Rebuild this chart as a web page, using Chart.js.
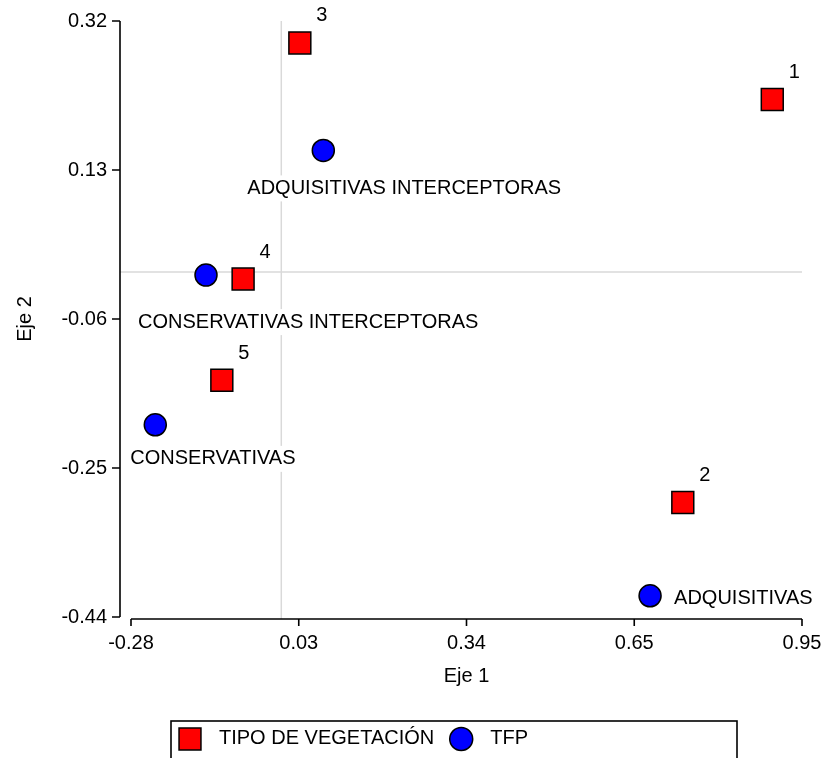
<!DOCTYPE html>
<html>
<head>
<meta charset="utf-8">
<script src="https://cdn.jsdelivr.net/npm/chart.js@4/dist/chart.umd.min.js"></script>
<style>
  html, body { margin: 0; padding: 0; background: #fff; }
  #plot { display: block; }
</style>
</head>
<body>
<canvas id="plot" width="826" height="758"></canvas>
<script>
// Ordination scores: vegetation types (numbered) and functional groups (TFP)
const vegNames = ['1', '2', '3', '4', '5'];
const vegX = [0.900, 0.736, 0.034, -0.070, -0.109];
const vegY = [0.220, -0.294, 0.292, -0.009, -0.138];

const tfpNames = ['ADQUISITIVAS INTERCEPTORAS', 'CONSERVATIVAS INTERCEPTORAS', 'CONSERVATIVAS', 'ADQUISITIVAS'];
const tfpX = [0.077, -0.138, -0.231, 0.676];
const tfpY = [0.155, -0.004, -0.195, -0.413];

const seriesNames = ['TIPO DE VEGETACIÓN', 'TFP'];

// Axis extents and their printed tick labels (ticks are evenly spaced)
const xRange = [-0.2755, 0.9545];
const yRange = [-0.44, 0.32];
const xTickLabels = ['-0.28', '0.03', '0.34', '0.65', '0.95'];
const yTickLabels = ['-0.44', '-0.25', '-0.06', '0.13', '0.32'];
const axisTitles = ['Eje 1', 'Eje 2'];

// ---- presentation ----
const FONT = "'Liberation Sans', Arial, sans-serif";
const FS = 20;
const vegLabelShift = { dx: 22, dy: -27 };
const tfpLabelShift = [
  { dx: -76, dy: 38 },
  { dx: -68, dy: 47 },
  { dx: -25, dy: 34 },
  { dx: 24, dy: 3 }
];

function evenTicks(range, n) {
  return Array.from({ length: n }, (_, i) => ({ value: range[0] + i * (range[1] - range[0]) / (n - 1) }));
}

// Keep the plot area fixed by the layout padding alone
function noOverhang(s) {
  s.paddingTop = 0;
  s.paddingBottom = 0;
  s.paddingLeft = 0;
  s.paddingRight = 0;
}

// Detached axis lines with outward tick marks, plus the reference lines through the origin
const axesPlugin = {
  id: 'detachedAxes',
  beforeDatasetsDraw(chart) {
    const { ctx, chartArea: a, scales: { x, y } } = chart;
    const axX = a.left - 11;
    const axY = a.bottom + 2;
    ctx.save();
    ctx.lineCap = 'butt';
    ctx.strokeStyle = '#d9d9d9';
    ctx.lineWidth = 1.5;
    const x0 = x.getPixelForValue(0);
    const y0 = y.getPixelForValue(0);
    ctx.beginPath();
    ctx.moveTo(axX, y0); ctx.lineTo(a.right, y0);
    ctx.moveTo(x0, a.top); ctx.lineTo(x0, axY);
    ctx.stroke();

    ctx.strokeStyle = '#000';
    ctx.lineWidth = 1.6;
    ctx.beginPath();
    ctx.moveTo(axX, y.getPixelForValue(y.max));
    ctx.lineTo(axX, y.getPixelForValue(y.min));
    y.ticks.forEach(t => {
      const p = y.getPixelForValue(t.value);
      ctx.moveTo(axX - 8, p); ctx.lineTo(axX, p);
    });
    ctx.moveTo(x.getPixelForValue(x.min), axY);
    ctx.lineTo(x.getPixelForValue(x.max), axY);
    x.ticks.forEach(t => {
      const p = x.getPixelForValue(t.value);
      ctx.moveTo(p, axY); ctx.lineTo(p, axY + 7);
    });
    ctx.stroke();
    ctx.restore();
  }
};

// Text labels beside each point
const pointLabelPlugin = {
  id: 'pointLabels',
  afterDatasetsDraw(chart) {
    const { ctx } = chart;
    ctx.save();
    ctx.font = FS + 'px ' + FONT;
    ctx.textBaseline = 'middle';
    ctx.fillStyle = '#000';

    chart.getDatasetMeta(0).data.forEach((el, i) => {
      ctx.textAlign = 'center';
      ctx.fillText(vegNames[i], el.x + vegLabelShift.dx, el.y + vegLabelShift.dy);
    });

    chart.getDatasetMeta(1).data.forEach((el, i) => {
      const tx = el.x + tfpLabelShift[i].dx;
      const ty = el.y + tfpLabelShift[i].dy;
      const w = ctx.measureText(tfpNames[i]).width;
      ctx.fillStyle = '#fff';
      ctx.fillRect(tx - 3, ty - 13, w + 6, 26);
      ctx.fillStyle = '#000';
      ctx.textAlign = 'left';
      ctx.fillText(tfpNames[i], tx, ty);
    });
    ctx.restore();
  }
};

// Boxed legend below the plot
const boxedLegendPlugin = {
  id: 'boxedLegend',
  afterDraw(chart) {
    const { ctx } = chart;
    const box = { left: 171, top: 721, width: 566, height: 60 };
    ctx.save();
    ctx.strokeStyle = '#000';
    ctx.lineWidth = 1.6;
    ctx.strokeRect(box.left, box.top, box.width, box.height);

    ctx.font = FS + 'px ' + FONT;
    ctx.textBaseline = 'middle';
    ctx.textAlign = 'left';
    let cursor = box.left + 8;
    const cy = box.top + 18;
    chart.data.datasets.forEach(ds => {
      const cx = cursor + 11;
      ctx.fillStyle = ds.backgroundColor;
      ctx.strokeStyle = ds.borderColor;
      ctx.lineWidth = ds.borderWidth;
      Chart.helpers.drawPoint(ctx, {
        pointStyle: ds.pointStyle,
        radius: ds.legendRadius,
        rotation: 0,
        borderWidth: ds.borderWidth
      }, cx, cy);
      ctx.fillStyle = '#000';
      const tx = cx + 29;
      ctx.fillText(ds.label, tx, cy - 1);
      cursor = tx + ctx.measureText(ds.label).width + 16;
    });
    ctx.restore();
  }
};

new Chart(document.getElementById('plot'), {
  type: 'scatter',
  data: {
    datasets: [
      {
        label: seriesNames[0],
        data: vegX.map((x, i) => ({ x, y: vegY[i] })),
        pointStyle: 'rect',
        pointRadius: 15.5,
        legendRadius: 15.5,
        backgroundColor: '#ff0000',
        borderColor: '#000',
        borderWidth: 1.5
      },
      {
        label: seriesNames[1],
        data: tfpX.map((x, i) => ({ x, y: tfpY[i] })),
        pointStyle: 'circle',
        pointRadius: 11,
        legendRadius: 11.5,
        backgroundColor: '#0000ff',
        borderColor: '#000',
        borderWidth: 1.5
      }
    ]
  },
  options: {
    responsive: false,
    animation: false,
    events: [],
    clip: false,
    layout: { padding: { left: 0, right: 24, top: 21, bottom: 0 } },
    plugins: {
      legend: { display: false },
      tooltip: { enabled: false }
    },
    scales: {
      x: {
        type: 'linear',
        min: xRange[0],
        max: xRange[1],
        afterFit(s) { s.height = 141; noOverhang(s); },
        afterBuildTicks(s) { s.ticks = evenTicks(xRange, xTickLabels.length); },
        ticks: {
          callback: (v, i) => xTickLabels[i],
          autoSkip: false,
          maxRotation: 0,
          padding: 14,
          color: '#000',
          font: { family: FONT, size: FS }
        },
        grid: { display: false, drawTicks: false },
        border: { display: false },
        title: {
          display: true,
          text: axisTitles[0],
          color: '#000',
          font: { family: FONT, size: FS },
          padding: { top: 0, bottom: 70 }
        }
      },
      y: {
        type: 'linear',
        min: yRange[0],
        max: yRange[1],
        afterFit(s) { s.width = 131; noOverhang(s); },
        afterBuildTicks(s) { s.ticks = evenTicks(yRange, yTickLabels.length); },
        ticks: {
          callback: (v, i) => yTickLabels[i],
          autoSkip: false,
          padding: 24,
          color: '#000',
          font: { family: FONT, size: FS }
        },
        grid: { display: false, drawTicks: false },
        border: { display: false },
        title: {
          display: true,
          text: axisTitles[1],
          color: '#000',
          font: { family: FONT, size: FS },
          padding: { top: 13, bottom: 0 }
        }
      }
    }
  },
  plugins: [axesPlugin, pointLabelPlugin, boxedLegendPlugin]
});
</script>
</body>
</html>
